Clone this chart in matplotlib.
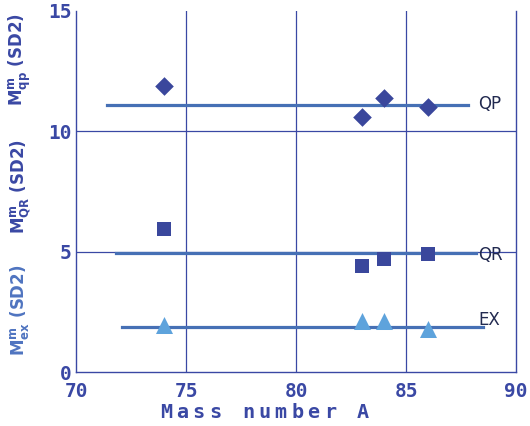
import matplotlib
matplotlib.use("Agg")
import matplotlib.pyplot as plt

mass = [74, 83, 84, 86]
qp = [11.9, 10.6, 11.4, 11.0]
qr = [5.95, 4.4, 4.7, 4.9]
ex = [1.95, 2.1, 2.1, 1.8]

qp_fit = 11.1
qr_fit = 4.95
ex_fit = 1.87
qp_range = [71.4, 87.8]
qr_range = [71.8, 88.2]
ex_range = [72.1, 88.5]

xlabel = "Mass number A"

dark = "#3a479c"
light = "#5ea3dc"
linec = "#4670b5"
axc = "#3a48a4"

fig = plt.figure(figsize=(5.3, 4.26), dpi=100)
ax = fig.add_axes([76/530, 1-372/426, 440/530, 361/426])
ax.set_xlim(70, 90)
ax.set_ylim(0, 15)

for xv in [75, 80, 85]:
    ax.axvline(xv, color=axc, lw=0.9, zorder=1)
for yv in [5, 10]:
    ax.axhline(yv, color=axc, lw=0.9, zorder=1)

ax.plot(qp_range, [qp_fit]*2, color=linec, lw=2.3, zorder=2)
ax.plot(qr_range, [qr_fit]*2, color=linec, lw=2.3, zorder=2)
ax.plot(ex_range, [ex_fit]*2, color=linec, lw=2.3, zorder=2)

ax.scatter(mass, qp, marker="D", s=90, color=dark, zorder=3, linewidths=0)
ax.scatter(mass, qr, marker="s", s=110, color=dark, zorder=3, linewidths=0)
ax.scatter(mass, ex, marker="^", s=150, color=light, zorder=3, linewidths=0)

ax.text(88.3, 11.15, "QP", fontsize=12, color="#222a50", va="center", ha="left")
ax.text(88.3, 4.85, "QR", fontsize=12, color="#222a50", va="center", ha="left")
ax.text(88.3, 2.15, "EX", fontsize=12, color="#222a50", va="center", ha="left")

ax.set_xticks([70, 75, 80, 85, 90])
ax.set_yticks([0, 5, 10, 15])
for s in ["left", "bottom", "right"]:
    ax.spines[s].set_color(axc)
    ax.spines[s].set_linewidth(1.0)
ax.spines["top"].set_visible(False)
ax.tick_params(length=0, colors=axc, labelsize=14)
ax.tick_params(axis="x", pad=7)
ax.tick_params(axis="y", pad=3)
for lab in ax.get_xticklabels() + ax.get_yticklabels():
    lab.set_fontweight("bold")
    lab.set_color(axc)
    lab.set_family("DejaVu Sans Mono")

# letter-spaced x-axis label
x0, step = 166, 16.4
for i, ch in enumerate(xlabel):
    if ch != " ":
        fig.text((x0 + i*step)/530, 1-412/426, ch, fontsize=14.5, fontweight="bold",
                 color=axc, family="DejaVu Sans Mono", ha="center", va="center")

fig.text(20/530, 1-60/426, r"$\mathbf{M^{m}_{qp}}$ (SD2)", rotation=90, color=axc,
         fontsize=12, fontweight="bold", ha="center", va="center")
fig.text(20/530, 1-187/426, r"$\mathbf{M^{m}_{QR}}$ (SD2)", rotation=90, color=axc,
         fontsize=12, fontweight="bold", ha="center", va="center")
fig.text(20/530, 1-310/426, r"$\mathbf{M^{m}_{ex}}$ (SD2)", rotation=90, color="#4f74c0",
         fontsize=12, fontweight="bold", ha="center", va="center")

fig.savefig("out.png", dpi=100)
